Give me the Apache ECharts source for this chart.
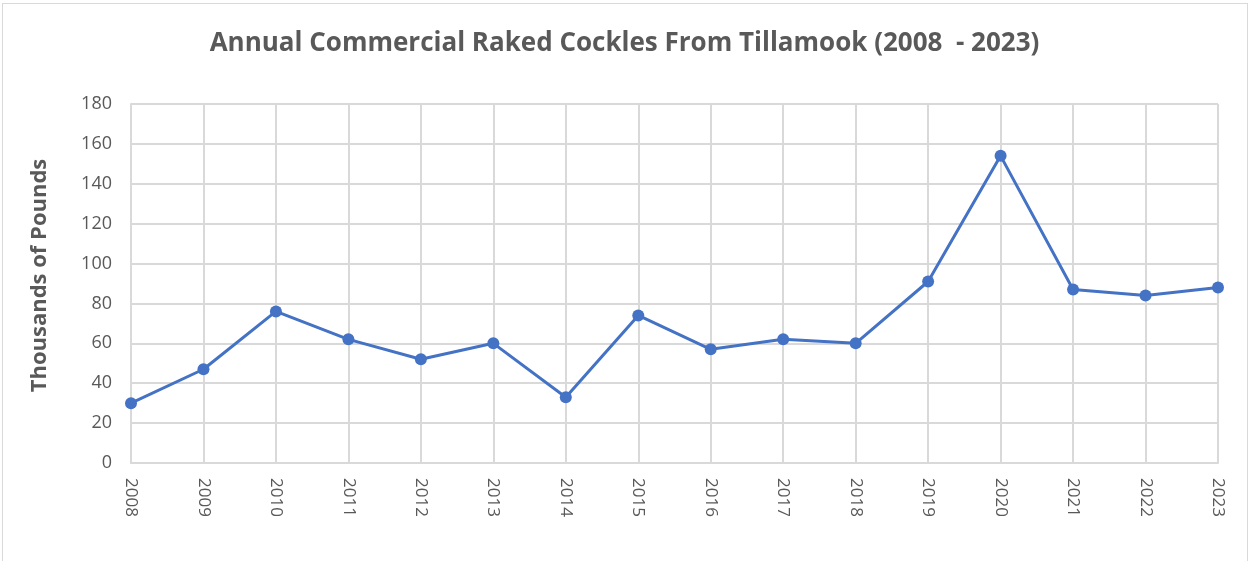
<!DOCTYPE html>
<html>
<head>
<meta charset="utf-8">
<script src="https://cdn.jsdelivr.net/npm/echarts@6/dist/echarts.min.js"></script>
<style>
  html, body { margin: 0; padding: 0; background: #fff; overflow: hidden; }
  #frame { position: absolute; left: 2px; top: 3px; width: 1244px; height: 600px; border: 1px solid #d9d9d9; }
  #main { position: absolute; left: 0; top: 0; width: 1249px; height: 561px; }
</style>
</head>
<body>
<div id="frame"></div>
<div id="main"></div>
<script>
  // data
  var years = ['2008', '2009', '2010', '2011', '2012', '2013', '2014', '2015',
               '2016', '2017', '2018', '2019', '2020', '2021', '2022', '2023'];
  var pounds = [30, 47, 76, 62, 52, 60, 33, 74, 57, 62, 60, 91, 154, 87, 84, 88];

  var grey = '#595959';
  var gridGrey = '#d9d9d9';

  var chart = echarts.init(document.getElementById('main'));
  chart.setOption({
    animation: false,
    title: {
      text: 'Annual Commercial Raked Cockles From Tillamook (2008  - 2023)',
      left: 'center',
      top: 26,
      textStyle: {
        fontFamily: 'Open Sans',
        fontWeight: 'bold',
        fontSize: 26,
        color: grey
      }
    },
    grid: {
      left: 131,
      right: 31,
      top: 104,
      bottom: 98,
      containLabel: false
    },
    xAxis: {
      type: 'category',
      data: years,
      boundaryGap: false,
      axisLine: { lineStyle: { color: gridGrey, width: 2 } },
      axisTick: { show: false },
      axisLabel: {
        rotate: -90,
        margin: 15,
        fontFamily: 'Open Sans',
        fontSize: 17,
        color: grey
      },
      splitLine: { show: true, lineStyle: { color: gridGrey, width: 2 } }
    },
    yAxis: {
      type: 'value',
      min: 0,
      max: 180,
      interval: 20,
      name: 'Thousands of Pounds',
      nameLocation: 'middle',
      nameGap: 80,
      nameTextStyle: {
        fontFamily: 'Open Sans',
        fontWeight: 'bold',
        fontSize: 22,
        color: grey,
        padding: [0, 0, 0, 16]
      },
      axisLine: { show: true, lineStyle: { color: gridGrey, width: 2 } },
      axisTick: { show: false },
      axisLabel: {
        margin: 19,
        fontFamily: 'Open Sans',
        fontSize: 18,
        color: grey
      },
      splitLine: { lineStyle: { color: gridGrey, width: 2 } }
    },
    series: [{
      type: 'line',
      data: pounds,
      symbol: 'circle',
      symbolSize: 12,
      lineStyle: { color: '#4472C4', width: 3 },
      itemStyle: { color: '#4472C4' }
    }]
  });
</script>
</body>
</html>
